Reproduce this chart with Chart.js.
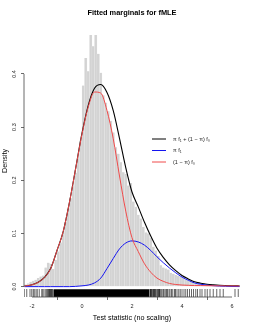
<!DOCTYPE html>
<html>
<head>
<meta charset="utf-8">
<script src="https://cdn.jsdelivr.net/npm/chart.js@4.4.1/dist/chart.umd.min.js"></script>
<style>
html, body { margin: 0; padding: 0; background: #fff; }
#wrap { width: 253px; height: 327px; }
</style>
</head>
<body>
<div id="wrap"><canvas id="cfit" width="253" height="327"></canvas></div>
<script>
// histogram of the test statistics (bin mids, width 0.1)
var binMids = [-2.25,-2.15,-2.05,-1.95,-1.85,-1.75,-1.65,-1.55,-1.45,-1.35,-1.25,-1.15,-1.05,-0.95,-0.85,-0.75,-0.65,-0.55,-0.45,-0.35,-0.25,-0.15,-0.05,
    0.05,0.15,0.25,0.35,0.45,0.55,0.65,0.75,0.85,0.95,1.05,1.15,1.25,1.35,1.45,1.55,1.65,1.75,1.85,1.95,
    2.05,2.15,2.25,2.35,2.45,2.55,2.65,2.75,2.85,2.95,3.05,3.15,3.25,3.35,3.45,3.55,3.65,3.75,3.85,3.95,
    4.05,4.15,4.25,4.35,4.45,4.55,4.65,4.75,4.85,4.95,5.05,5.15,5.25,5.35,5.45,5.55,5.65,5.75,5.85,5.95,
    6.05,6.15,6.25];
var histDensity = [0.004,0.006,0.009,0.011,0.013,0.016,0.019,0.021,0.036,0.045,0.043,0.033,0.050,0.066,0.083,0.101,0.122,0.146,0.166,0.190,0.214,0.243,0.275,
    0.378,0.430,0.405,0.473,0.452,0.473,0.438,0.402,0.360,0.346,0.330,0.312,0.290,0.262,0.250,0.234,0.215,0.212,0.190,0.195,
    0.160,0.150,0.135,0.128,0.112,0.102,0.100,0.092,0.075,0.068,0.058,0.040,0.036,0.034,0.032,0.026,0.024,0.022,0.020,0.019,
    0.016,0.014,0.012,0.011,0.009,0.008,0.007,0.006,0.006,0.005,0.004,0.004,0.003,0.003,0.003,0.002,0.002,0.001,0,0,
    0,0.002,0.003];

// fitted curves
var curveX = [-2.3,-2.0,-1.75,-1.5,-1.25,-1.0,-0.75,-0.5,-0.25,0,0.25,0.5,0.75,1.0,1.25,1.5,1.75,2.0,2.25,2.5,2.75,3.0,3.25,3.5,3.75,4.0,4.25,4.5,4.75,5.0,5.25,5.5,5.75,6.0,6.3];
var mixDensity = [0.0011,0.0034,0.0081,0.0174,0.0344,0.068,0.104,0.159,0.2235,0.2885,0.341,0.373,0.380,0.365,0.331,0.279,0.224,0.178,0.150,0.121,0.095,0.072,0.055,0.041,0.030,0.021,0.0145,0.009,0.0065,0.0046,0.0034,0.0025,0.002,0.0016,0.0013];
var altDensity = [0,0,0,0,0,0,0,0,0.0005,0.0015,0.003,0.007,0.016,0.034,0.053,0.071,0.082,0.086,0.084,0.078,0.068,0.056,0.045,0.035,0.026,0.018,0.012,0.007,0.0045,0.0028,0.0018,0.001,0.0006,0.0003,0.0001];
var nullDensity = [0.0011,0.0034,0.0081,0.0174,0.0344,0.068,0.104,0.159,0.223,0.287,0.338,0.366,0.364,0.331,0.278,0.208,0.142,0.092,0.066,0.043,0.027,0.016,0.010,0.006,0.004,0.003,0.0025,0.002,0.002,0.0018,0.0016,0.0015,0.0014,0.0013,0.0012];

// rug: solid run in the middle, single marks at the ends
var rugRun = [-1.15, 2.7];
var rugMarks = [-2.31,-2.21,-2.08,-2.01,-1.95,-1.91,-1.84,-1.79,-1.71,-1.61,-1.57,-1.52,-1.45,-1.41,-1.37,-1.35,-1.32,-1.3,-1.27,-1.25,-1.23,-1.21,-1.18,
    2.72,2.74,2.75,2.78,2.8,2.83,2.86,2.88,2.9,2.93,2.95,2.99,3.02,3.06,3.08,3.1,3.12,3.16,3.2,3.25,3.28,3.33,3.38,3.42,3.48,3.52,3.58,3.63,3.7,3.74,3.8,3.87,3.93,
    4.0,4.08,4.15,4.22,4.3,4.38,4.46,4.55,4.62,4.72,4.8,4.92,5.01,5.12,5.25,5.39,5.52,5.65,6.12,6.25];

var xTickValues = [-2, 0, 2, 4, 6];
var yTickValues = [0, 0.1, 0.2, 0.3, 0.4];
var legendLabels = ['\u03c0 f\u2081 + (1 \u2212 \u03c0) f\u2080', '\u03c0 f\u2081', '(1 \u2212 \u03c0) f\u2080'];

var X_MIN = -2.32, X_MAX = 6.32, Y_MIN = -0.0195, Y_MAX = 0.492;
var FONT = '"Liberation Sans", Arial, sans-serif';
var BLACK = '#000000', BLUE = '#1414f0', RED = '#f04a4a';

function pairs(xs, ys) {
    return xs.map(function (x, i) { return {x: x, y: ys[i]}; });
}

var rPlot = {
    id: 'rPlot',
    afterDraw: function (chart) {
        var ctx = chart.ctx, xs = chart.scales.x, ys = chart.scales.y, area = chart.chartArea;
        ctx.save();
        // axis lines only between first and last tick, like base R
        ctx.strokeStyle = '#444';
        ctx.lineWidth = 0.8;
        ctx.beginPath();
        ctx.moveTo(xs.getPixelForValue(xTickValues[0]), area.bottom);
        ctx.lineTo(xs.getPixelForValue(xTickValues[xTickValues.length - 1]), area.bottom);
        ctx.moveTo(area.left, ys.getPixelForValue(yTickValues[0]));
        ctx.lineTo(area.left, ys.getPixelForValue(yTickValues[yTickValues.length - 1]));
        ctx.stroke();

        ctx.fillStyle = '#000';
        ctx.textAlign = 'center';
        ctx.textBaseline = 'middle';
        ctx.font = 'bold 7.4px ' + FONT;
        ctx.fillText('Fitted marginals for fMLE', (area.left + area.right) / 2, 12.5);

        ctx.font = '7.2px ' + FONT;
        ctx.textBaseline = 'alphabetic';
        ctx.fillText('Test statistic (no scaling)', (area.left + area.right) / 2, 319.5);

        ctx.save();
        ctx.translate(7, (area.top + area.bottom) / 2);
        ctx.rotate(-Math.PI / 2);
        ctx.fillText('Density', 0, 0);
        ctx.restore();

        // legend
        var colors = [BLACK, BLUE, RED];
        var rows = [139, 150.5, 162];
        ctx.font = '5.5px ' + FONT;
        ctx.textAlign = 'left';
        ctx.textBaseline = 'middle';
        for (var i = 0; i < legendLabels.length; i++) {
            ctx.strokeStyle = colors[i];
            ctx.lineWidth = 1;
            ctx.beginPath();
            ctx.moveTo(152, rows[i]);
            ctx.lineTo(166, rows[i]);
            ctx.stroke();
            ctx.fillStyle = '#222';
            ctx.fillText(legendLabels[i], 173, rows[i]);
        }
        ctx.restore();
    }
};

var ctxFit = document.getElementById('cfit').getContext('2d');
var chartFit = new Chart(ctxFit, {
    type: 'bar',
    data: {
        datasets: [
            {
                type: 'line',
                label: 'null',
                data: pairs(curveX, nullDensity),
                borderColor: RED,
                borderWidth: 1,
                pointRadius: 0,
                cubicInterpolationMode: 'monotone',
                fill: false,
                order: 1
            },
            {
                type: 'line',
                label: 'alt',
                data: pairs(curveX, altDensity),
                borderColor: BLUE,
                borderWidth: 1,
                pointRadius: 0,
                cubicInterpolationMode: 'monotone',
                fill: false,
                order: 2
            },
            {
                type: 'line',
                label: 'mix',
                data: pairs(curveX, mixDensity),
                borderColor: BLACK,
                borderWidth: 1.1,
                pointRadius: 0,
                cubicInterpolationMode: 'monotone',
                fill: false,
                order: 3
            },
            {
                type: 'line',
                label: 'rug run',
                data: rugRun.map(function (x) { return {x: x, y: -0.005}; }),
                borderWidth: 0,
                pointRadius: 0,
                backgroundColor: '#000',
                fill: {value: Y_MIN},
                order: 4
            },
            {
                type: 'scatter',
                label: 'rug',
                data: rugMarks.map(function (x) { return {x: x, y: -0.012}; }),
                pointStyle: 'line',
                rotation: 90,
                radius: 4,
                borderWidth: 0.6,
                borderColor: '#000',
                order: 5
            },
            {
                label: 'hist',
                data: pairs(binMids, histDensity),
                backgroundColor: '#d3d3d3',
                borderColor: '#ececec',
                borderWidth: {left: 0.4, right: 0.4, top: 0, bottom: 0},
                barPercentage: 1,
                categoryPercentage: 1,
                order: 10
            }
        ]
    },
    options: {
        responsive: false,
        animation: false,
        devicePixelRatio: 1,
        layout: {padding: {left: 0, top: 25, right: 13, bottom: 0}},
        plugins: {legend: {display: false}, tooltip: {enabled: false}, title: {display: false}},
        scales: {
            x: {
                type: 'linear',
                min: X_MIN,
                max: X_MAX,
                offset: false,
                border: {display: false},
                grid: {drawOnChartArea: false, drawTicks: true, tickLength: 3, color: '#444', lineWidth: 0.8},
                ticks: {
                    font: {family: FONT, size: 5.5},
                    color: '#222',
                    padding: 3,
                    maxRotation: 0,
                    callback: function (v) { return String(v); }
                },
                afterBuildTicks: function (scale) {
                    scale.ticks = xTickValues.map(function (v) { return {value: v}; });
                },
                afterFit: function (scale) { scale.height = 30; }
            },
            y: {
                type: 'linear',
                min: Y_MIN,
                max: Y_MAX,
                border: {display: false},
                grid: {drawOnChartArea: false, drawTicks: true, tickLength: 3, color: '#444', lineWidth: 0.8},
                ticks: {
                    font: {family: FONT, size: 5.5},
                    color: '#222',
                    padding: 2.5,
                    minRotation: 90,
                    maxRotation: 90,
                    crossAlign: 'center',
                    callback: function (v) { return v.toFixed(1); }
                },
                afterBuildTicks: function (scale) {
                    scale.ticks = yTickValues.map(function (v) { return {value: v}; });
                },
                afterFit: function (scale) { scale.width = 24; }
            }
        }
    },
    plugins: [rPlot]
});
</script>
</body>
</html>
